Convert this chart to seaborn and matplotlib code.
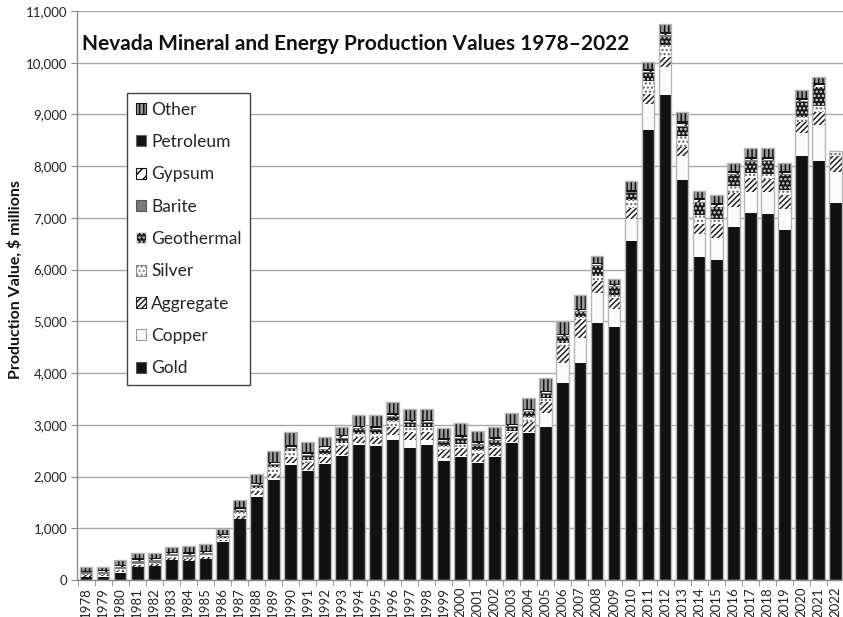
import matplotlib
matplotlib.use("Agg")
import matplotlib.pyplot as plt
from matplotlib.patches import Patch
from matplotlib.ticker import FuncFormatter
import seaborn as sns
import numpy as np

# Values ($ millions), 1978-2022
years = [str(y) for y in range(1978, 2023)]

gold = [55, 60, 140, 250, 270, 390, 370, 400, 740, 1175,
        1610, 1935, 2225, 2110, 2245, 2400, 2610, 2590, 2705, 2545,
        2610, 2305, 2380, 2255, 2385, 2655, 2835, 2965, 3805, 4190,
        4970, 4890, 6545, 8700, 9380, 7740, 6250, 6190, 6830, 7090,
        7080, 6770, 8200, 8100, 7285]
copper = [10, 10, 5, 5, 5, 5, 5, 5, 5, 10,
          30, 30, 40, 20, 25, 20, 40, 40, 100, 160,
          95, 45, 20, 30, 15, 20, 35, 260, 385, 485,
          580, 350, 435, 505, 547, 460, 435, 420, 390, 420,
          430, 400, 440, 700, 595]
aggregate = [30, 30, 35, 30, 30, 25, 30, 35, 35, 60,
             75, 90, 110, 130, 110, 165, 110, 110, 160, 160,
             160, 160, 145, 160, 150, 170, 190, 225, 336, 365,
             225, 210, 210, 195, 181, 180, 200, 275, 260, 260,
             245, 275, 205, 255, 310]
silver = [15, 20, 30, 30, 30, 35, 35, 35, 30, 70,
          70, 130, 110, 60, 65, 65, 70, 80, 115, 95,
          95, 80, 90, 60, 40, 30, 100, 65, 50, 50,
          100, 60, 160, 240, 239, 195, 175, 90, 140, 95,
          100, 85, 105, 110, 110]
geothermal = [0, 0, 0, 0, 0, 5, 10, 15, 15, 20,
              25, 30, 40, 70, 75, 80, 80, 80, 80, 70,
              70, 80, 85, 95, 100, 85, 90, 80, 116, 90,
              190, 150, 130, 160, 160, 180, 225, 230, 215, 225,
              240, 300, 300, 360, 0]
barite = [35, 40, 50, 60, 45, 40, 35, 30, 25, 25,
          25, 25, 25, 20, 20, 20, 20, 20, 15, 15,
          15, 20, 20, 20, 20, 15, 15, 15, 20, 15,
          15, 15, 15, 15, 20, 25, 20, 15, 15, 20,
          15, 15, 15, 15, 0]
gypsum = [15, 15, 15, 20, 20, 15, 15, 15, 15, 20,
          20, 20, 25, 25, 25, 25, 25, 25, 20, 20,
          20, 25, 25, 25, 25, 20, 20, 20, 20, 20,
          20, 20, 15, 25, 30, 35, 35, 30, 25, 35,
          30, 20, 20, 25, 0]
petroleum = [15, 15, 20, 25, 25, 30, 35, 35, 20, 25,
             25, 25, 30, 30, 35, 30, 25, 25, 25, 25,
             25, 25, 30, 35, 30, 25, 25, 20, 20, 25,
             25, 20, 30, 30, 40, 50, 40, 35, 35, 40,
             35, 35, 35, 40, 0]
other = [70, 55, 95, 100, 105, 90, 130, 125, 100, 145,
         165, 210, 250, 210, 160, 160, 210, 220, 230, 215,
         215, 195, 235, 210, 190, 205, 200, 250, 260, 270,
         145, 100, 165, 140, 156, 175, 140, 160, 150, 165,
         175, 160, 160, 115, 0]

# bottom -> top: name, values, face, hatch, hatch colour, legend edge
series = [
    ("Gold", gold, "#111111", None, "#111111", "#555555"),
    ("Copper", copper, "#fbfbfb", None, "#fbfbfb", "#9a9a9a"),
    ("Aggregate", aggregate, "#ffffff", "//////", "#222222", "#222222"),
    ("Silver", silver, "#ffffff", "....", "#666666", "#888888"),
    ("Geothermal", geothermal, "#1a1a1a", "....", "#e0e0e0", "#e0e0e0"),
    ("Barite", barite, "#7a7a7a", None, "#7a7a7a", "#555555"),
    ("Gypsum", gypsum, "#ffffff", "///", "#111111", "#111111"),
    ("Petroleum", petroleum, "#141414", None, "#141414", "#666666"),
    ("Other", other, "#9a9a9a", "||||", "#111111", "#111111"),
]

sns.set_style("white")
plt.rcParams['font.family'] = ['Lato', 'DejaVu Sans']
plt.rcParams['hatch.linewidth'] = 1.1

fig = plt.figure(figsize=(8.43, 6.17), dpi=100)
ax = fig.add_axes([77 / 843, 37 / 617, 1 - 77 / 843, 569 / 617])
ax.set_axisbelow(True)
ax.yaxis.grid(True, color="#a8a8a8", linewidth=1)

cum = np.cumsum(np.array([s[1] for s in series], dtype=float), axis=0)

# draw cumulative layers from the top down so lower layers cover upper ones
for i in range(len(series) - 1, -1, -1):
    name, vals, face, hatch, hcol, _ = series[i]
    sns.barplot(x=years, y=cum[i], color=face, saturation=1, width=0.75,
                hatch=hatch, edgecolor=hcol, linewidth=0, errorbar=None, ax=ax)

# light outline round each bar
sns.barplot(x=years, y=cum[-1], color="#b5b5b5", fill=False, width=0.75,
            linewidth=1, errorbar=None, ax=ax)

ax.set_xlim(-0.53, 44.45)
ax.set_ylim(0, 11000)
ax.set_yticks(range(0, 11001, 1000))
ax.yaxis.set_major_formatter(FuncFormatter(lambda v, p: f"{int(v):,}"))
ax.set_xlabel("")
ax.set_ylabel("")
ax.tick_params(axis="y", length=4, color="#8a8a8a", labelsize=9.5, pad=3,
               labelcolor="#222222", left=True)
ax.tick_params(axis="x", length=0, labelsize=9.5, rotation=90, pad=5,
               labelcolor="#222222")
ax.set_xticks(np.arange(-0.5, 44.5, 1), minor=True)
ax.tick_params(axis="x", which="minor", length=4, color="#8a8a8a", bottom=True)

for side in ["top", "right"]:
    ax.spines[side].set_visible(False)
for side in ["left", "bottom"]:
    ax.spines[side].set_color("#8a8a8a")
    ax.spines[side].set_linewidth(1)

fig.text(82 / 843, 1 - 50 / 617, "Nevada Mineral and Energy Production Values 1978\u20132022",
         ha="left", va="baseline", fontsize=15, fontweight="bold", color="#111111")
fig.text(15 / 843, 1 - 280 / 617, "Production Value, $ millions", rotation=90,
         ha="center", va="center", fontsize=11.5, fontweight="bold", color="#111111")

handles = [Patch(facecolor=face, hatch=hatch, edgecolor=ledge, linewidth=0.8, label=name)
           for name, vals, face, hatch, hcol, ledge in series][::-1]
leg = fig.legend(handles=handles, loc="upper left",
                 bbox_to_anchor=(127 / 843, 1 - 93 / 617), bbox_transform=fig.transFigure,
                 fontsize=12.5, frameon=True, fancybox=False, framealpha=1,
                 handlelength=0.6, handleheight=0.6, handletextpad=0.3,
                 labelspacing=0.94, borderpad=0.5, borderaxespad=0)
leg.get_frame().set_edgecolor("#444444")
leg.get_frame().set_linewidth(1)

fig.savefig("out.png", dpi=100)
